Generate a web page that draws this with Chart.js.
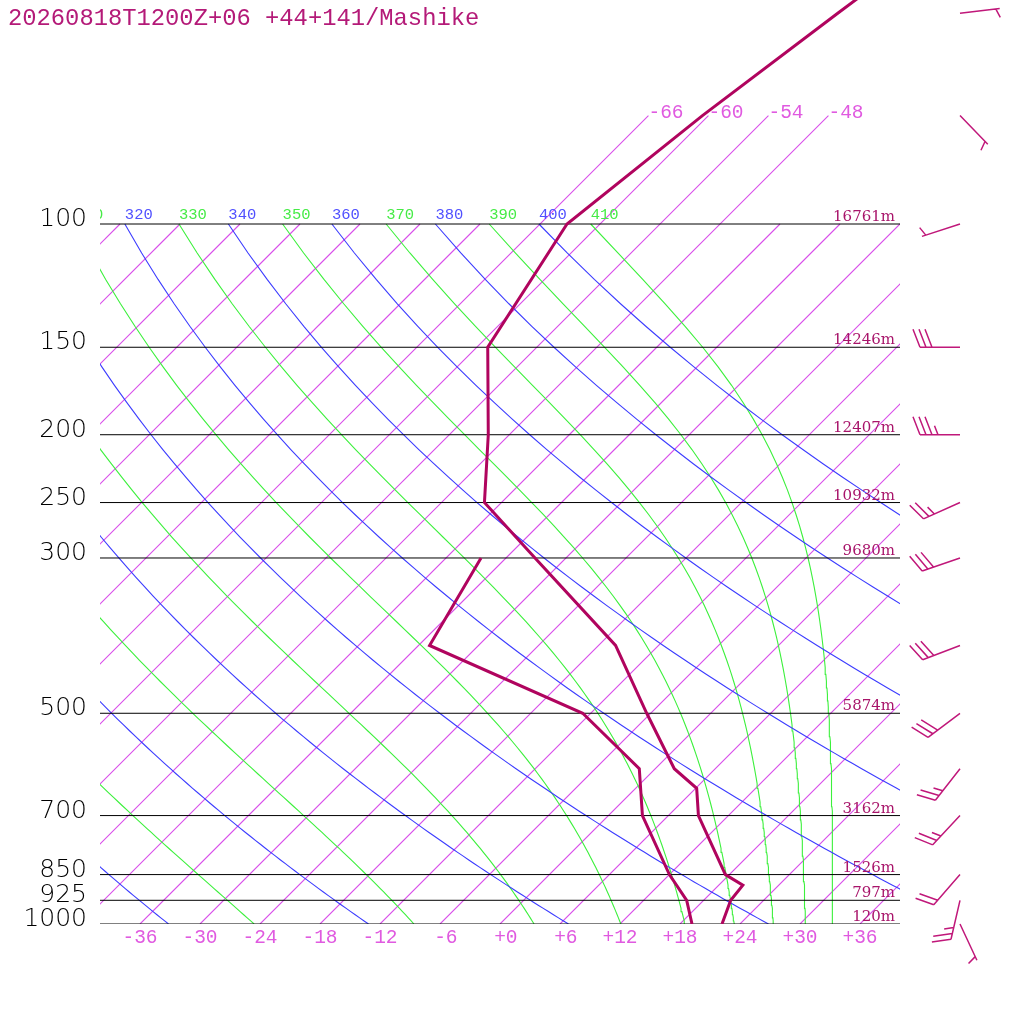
<!DOCTYPE html>
<html>
<head>
<meta charset="utf-8">
<title>Skew-T Mashike</title>
<script src="https://cdn.jsdelivr.net/npm/chart.js@4.4.0/dist/chart.umd.min.js"></script>
<style>
  html, body { margin: 0; padding: 0; background: #fff; }
  canvas { display: block; }
</style>
</head>
<body>
<canvas id="skewt" width="1024" height="1024"></canvas>
<script>
const titleText = "20260818T1200Z+06 +44+141/Mashike";

// sounding
const tempPres = [1000, 925, 880, 850, 700, 640, 600, 500, 400, 300, 250, 200, 150, 100, 70, 50, 40];
const tempC = [22.2, 20.7, 20.4, 17.6, 9.0, 6.1, 1.9, -6.4, -16.3, -33.1, -43.7, -50.1, -58.9, -63.3, -60.6, -57.3, -55.0];
const dewPres = [1000, 925, 850, 700, 600, 500, 400, 300];
const dewC = [19.2, 16.3, 12.0, 3.4, -1.6, -12.8, -34.9, -38.5];

// isobars and their heights
const isobarLevels = [1000, 925, 850, 700, 500, 300, 250, 200, 150, 100];
const isobarHeights = ["120m", "797m", "1526m", "3162m", "5874m", "9680m", "10932m", "12407m", "14246m", "16761m"];

// wind barbs
const windPres = [1000, 925, 850, 700, 600, 500, 400, 300, 250, 200, 150, 100, 70, 50];
const windDir = [155, 193, 221, 223, 218, 233, 249, 251, 246, 270, 270, 252, 136, 83];
const windKt = [5, 25, 20, 25, 25, 30, 30, 30, 25, 35, 30, 5, 5, 5];

// background grid
const xTicks = [-36, -30, -24, -18, -12, -6, 0, 6, 12, 18, 24, 30, 36];
const isoLabelled = [-66, -60, -54, -48];
const dryThetas = [240, 260, 280, 300, 320, 340, 360, 380, 400];
const moistThetaE = [250, 270, 290, 310, 330, 350, 370, 390, 410];
const isotherms = [];
for (let t = -108; t <= 36; t += 6) isotherms.push(t);

const SKEW = 70;          // degC of skew per decade of pressure (45 deg)
const P_TOP = Math.pow(10, 1.68);

const cIso = "rgb(216,78,234)", cIsoTxt = "rgb(224,90,224)";
const cDry = "rgb(60,60,255)", cMoist = "rgb(60,240,60)";
const cProf = "#b0045e", cText = "#b41a78";

function skewX(t, p) { return t + SKEW * Math.log10(1000 / p); }

function thetaE(tC, p) {
  const tk = tC + 273.15;
  const es = 6.112 * Math.exp(17.67 * tC / (tC + 243.5));
  const r = 622 * es / (p - es);
  return tk * Math.pow(1000 / p, 0.2854 * (1 - 0.00028 * r)) *
    Math.exp((3.376 / tk - 0.00254) * r * (1 + 0.00081 * r));
}
function tempForThetaE(te, p) {
  let lo = -130, hi = 40;
  for (let i = 0; i < 60; i++) {
    const mid = (lo + hi) / 2;
    if (thetaE(mid, p) > te) hi = mid; else lo = mid;
  }
  return (lo + hi) / 2;
}

const curvePres = [];
for (let p = 1000; p >= 100; p -= 10) curvePres.push(p);

const line = (data, color, width, order) => ({
  data, borderColor: color, backgroundColor: color, borderWidth: width,
  pointRadius: 0, tension: 0, fill: false, order
});

const datasets = [];
datasets.push(line(tempPres.map((p, i) => ({ x: skewX(tempC[i], p), y: p })), cProf, 3, 0));
datasets.push(line(dewPres.map((p, i) => ({ x: skewX(dewC[i], p), y: p })), cProf, 3, 0));
isobarLevels.forEach(p => datasets.push(line([{ x: -40, y: p }, { x: 40, y: p }], "#000", 1, 1)));
isotherms.forEach(t => {
  const top = isoLabelled.includes(t) ? 70 : 100;
  datasets.push(line([{ x: skewX(t, 1000), y: 1000 }, { x: skewX(t, top), y: top }], cIso, 1.1, 3));
});
dryThetas.forEach(th => datasets.push(line(curvePres.map(p => (
  { x: skewX(th * Math.pow(p / 1000, 0.286) - 273.15, p), y: p })), cDry, 1.1, 2)));
moistThetaE.forEach(te => datasets.push(line(curvePres.map(p => (
  { x: skewX(tempForThetaE(te, p), p), y: p })), cMoist, 1.1, 2)));

function drawBarb(ctx, bx, by, dir, kt) {
  const a = dir * Math.PI / 180;
  const ux = Math.sin(a), uy = -Math.cos(a);
  const vx = -uy, vy = ux;
  const L = 40, step = 6;
  ctx.beginPath();
  ctx.moveTo(bx, by);
  ctx.lineTo(bx + ux * L, by + uy * L);
  let full = Math.floor(kt / 10), half = Math.round((kt % 10) / 5);
  let d = L;
  if (full === 0 && half) d = L - 4;
  const barb = (len) => {
    const sx = bx + ux * d, sy = by + uy * d;
    ctx.moveTo(sx, sy);
    ctx.lineTo(sx + vx * 18 * len + ux * 7 * len, sy + vy * 18 * len + uy * 7 * len);
    d -= step;
  };
  for (let i = 0; i < full; i++) barb(1);
  if (half) barb(0.5);
  ctx.stroke();
}

const skewLabels = {
  id: "skewLabels",
  afterDraw(chart) {
    const { ctx, chartArea: area, scales: { x, y } } = chart;
    const px = (t, p) => x.getPixelForValue(skewX(t, p));
    ctx.save();

    ctx.fillStyle = cText;
    ctx.font = "23.8px 'Liberation Mono'";
    ctx.textAlign = "left";
    ctx.textBaseline = "alphabetic";
    ctx.fillText(titleText, 8, 25);

    // adiabat labels along 100 hPa, clipped to the plot
    ctx.save();
    ctx.beginPath();
    ctx.rect(area.left, 0, area.right - area.left, chart.height);
    ctx.clip();
    ctx.font = "15.5px 'Liberation Mono'";
    const y100 = y.getPixelForValue(100);
    dryThetas.forEach(th => {
      ctx.fillStyle = "rgb(80,80,255)";
      ctx.fillText(String(th), px(th * Math.pow(0.1, 0.286) - 273.15, 100), y100 - 5);
    });
    moistThetaE.forEach(te => {
      ctx.fillStyle = "rgb(70,235,70)";
      ctx.fillText(String(te), px(tempForThetaE(te, 100), 100), y100 - 5);
    });
    ctx.restore();

    // isotherm labels and temperature axis
    ctx.font = "19.5px 'Liberation Mono'";
    ctx.fillStyle = cIsoTxt;
    isoLabelled.forEach(t => ctx.fillText(String(t), px(t, 70), y.getPixelForValue(70) + 2));
    ctx.textAlign = "center";
    xTicks.forEach(t => {
      const s = (t > 0 ? "+" + t : t === 0 ? "+0" : String(t)).padStart(3, " ");
      ctx.fillText(s, px(t, 1000), area.bottom + 19);
    });

    // pressure and height labels
    isobarLevels.forEach((p, i) => {
      const py = y.getPixelForValue(p);
      ctx.textAlign = "right";
      ctx.fillStyle = "#000";
      ctx.font = "200 25px 'DejaVu Sans'";
      ctx.fillText(String(p), area.left - 13, py + 2);
      ctx.fillStyle = "#a8146a";
      ctx.font = "15px 'DejaVu Serif'";
      ctx.fillText(isobarHeights[i], area.right - 5, py - 3);
    });

    // wind barbs
    ctx.strokeStyle = "#c0187a";
    ctx.lineWidth = 1.5;
    windPres.forEach((p, i) => drawBarb(ctx, area.right + 60, y.getPixelForValue(p), windDir[i], windKt[i]));

    ctx.restore();
  }
};

new Chart(document.getElementById("skewt"), {
  type: "line",
  data: { datasets },
  options: {
    responsive: false,
    animation: false,
    devicePixelRatio: 1,
    layout: { padding: { left: 100, right: 124, top: 0, bottom: 100 } },
    scales: {
      x: { type: "linear", min: -40, max: 40, display: false },
      y: { type: "logarithmic", min: P_TOP, max: 1000, reverse: true, display: false }
    },
    plugins: { legend: { display: false }, tooltip: { enabled: false } },
    elements: { line: { borderCapStyle: "butt" } }
  },
  plugins: [skewLabels]
});
</script>
</body>
</html>
